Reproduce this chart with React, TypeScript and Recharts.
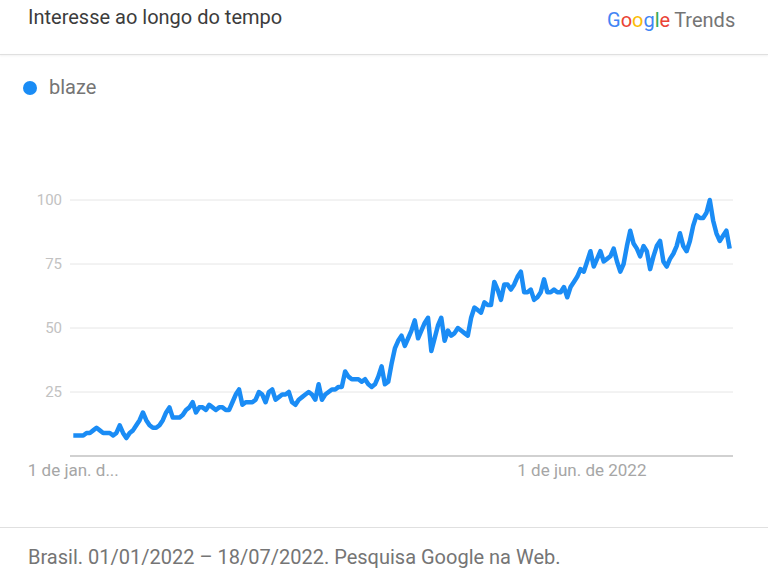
import React from "react";
import { CartesianGrid, Line, LineChart, XAxis, YAxis } from "recharts";

// daily interest, 01/01/2022 .. 18/07/2022
const blaze = [
  8, 8, 8, 8, 9, 9, 10, 11, 10, 9, 9, 9, 8, 9, 12, 9, 7, 9, 10, 12,
  14, 17, 14, 12, 11, 11, 12, 14, 17, 19, 15, 15, 15, 16, 18, 19, 21, 17, 19, 19,
  18, 20, 19, 18, 19, 19, 18, 18, 21, 24, 26, 20, 21, 21, 21, 22, 25, 24, 21, 25,
  26, 22, 23, 24, 24, 25, 21, 20, 22, 23, 24, 25, 24, 22, 28, 22, 24, 25, 26, 26,
  27, 27, 33, 31, 30, 30, 30, 29, 30, 28, 27, 28, 31, 35, 28, 29, 36, 42, 45, 47,
  43, 46, 49, 53, 46, 49, 52, 54, 41, 46, 51, 54, 45, 49, 47, 48, 50, 49, 48, 47,
  54, 58, 57, 56, 60, 59, 59, 68, 65, 61, 67, 67, 65, 67, 70, 72, 64, 64, 65, 61,
  62, 64, 69, 64, 64, 65, 64, 64, 66, 62, 66, 68, 70, 73, 72, 76, 80, 74, 77, 80,
  76, 77, 78, 81, 76, 72, 75, 82, 88, 83, 81, 78, 82, 80, 73, 78, 82, 84, 76, 74,
  77, 79, 82, 87, 82, 80, 84, 90, 94, 93, 93, 95, 100, 92, 87, 84, 86, 88, 81,
];

const yTicks = [0, 25, 50, 75, 100];
const xTickDays = [0, 151];
const xTickLabels = ["1 de jan. d...", "1 de jun. de 2022"];

const data = blaze.map((value, day) => ({ day, value }));

const BLUE = "#1a8cf5";

const XTick = (props: any) => {
  const { x, y, payload } = props;
  const idx = xTickDays.indexOf(payload.value);
  return (
    <text
      x={x + (idx === 1 ? 8 : 0)}
      y={y}
      dy="0.71em"
      textAnchor="middle"
      fill="#a6a6a6"
      fontSize={17}
      fontFamily="Roboto"
    >
      {xTickLabels[idx]}
    </text>
  );
};

export default function App() {
  return (
    <div
      style={{
        position: "absolute",
        left: 0,
        top: 0,
        width: 768,
        height: 576,
        background: "#fff",
        fontFamily: "Roboto, sans-serif",
        overflow: "hidden",
      }}
    >
      <div style={{ position: "absolute", left: 28, top: 5, fontSize: 20, color: "#3c3c3c" }}>
        Interesse ao longo do tempo
      </div>
      <div style={{ position: "absolute", left: 607, top: 8, fontSize: 20, color: "#757575" }}>
        <span style={{ color: "#4285f4" }}>G</span>
        <span style={{ color: "#ea4335" }}>o</span>
        <span style={{ color: "#fbbc05" }}>o</span>
        <span style={{ color: "#4285f4" }}>g</span>
        <span style={{ color: "#34a853" }}>l</span>
        <span style={{ color: "#ea4335" }}>e</span>
        <span style={{ marginLeft: 4 }}>Trends</span>
      </div>
      <div
        style={{
          position: "absolute",
          left: 0,
          top: 54,
          width: 768,
          height: 1,
          background: "#e0e0e0",
          boxShadow: "0 1px 2px rgba(0,0,0,0.08)",
        }}
      />
      <div
        style={{
          position: "absolute",
          left: 23,
          top: 81,
          width: 14,
          height: 14,
          borderRadius: 7,
          background: BLUE,
        }}
      />
      <div style={{ position: "absolute", left: 49, top: 75, fontSize: 20, color: "#757575" }}>
        blaze
      </div>

      <div style={{ position: "absolute", left: 0, top: 0 }}>
        <LineChart
          width={768}
          height={576}
          data={data}
          margin={{ top: 200, right: 35, bottom: 90, left: 10 }}
        >
          <CartesianGrid vertical={false} stroke="#e6e6e6" />
          <XAxis
            dataKey="day"
            type="number"
            domain={[-1, 199]}
            ticks={xTickDays}
            tick={<XTick />}
            tickLine={false}
            tickMargin={2}
            height={30}
            axisLine={{ stroke: "#c6c6c6", strokeWidth: 1.5 }}
            interval={0}
          />
          <YAxis
            type="number"
            domain={[0, 100]}
            ticks={yTicks}
            tickFormatter={(v: number) => (v === 0 ? "" : String(v))}
            tick={{ fill: "#c2c2c2", fontSize: 15, fontFamily: "Roboto" }}
            tickLine={false}
            axisLine={false}
            tickMargin={2}
            width={60}
          />
          <Line
            type="linear"
            dataKey="value"
            stroke={BLUE}
            strokeWidth={4.5}
            strokeLinejoin="round"
            dot={false}
            isAnimationActive={false}
          />
        </LineChart>
      </div>

      <div
        style={{
          position: "absolute",
          left: 0,
          top: 527,
          width: 768,
          height: 1,
          background: "#e0e0e0",
        }}
      />
      <div style={{ position: "absolute", left: 28, top: 545, fontSize: 20, color: "#757575" }}>
        Brasil. 01/01/2022 – 18/07/2022. Pesquisa Google na Web.
      </div>
    </div>
  );
}
